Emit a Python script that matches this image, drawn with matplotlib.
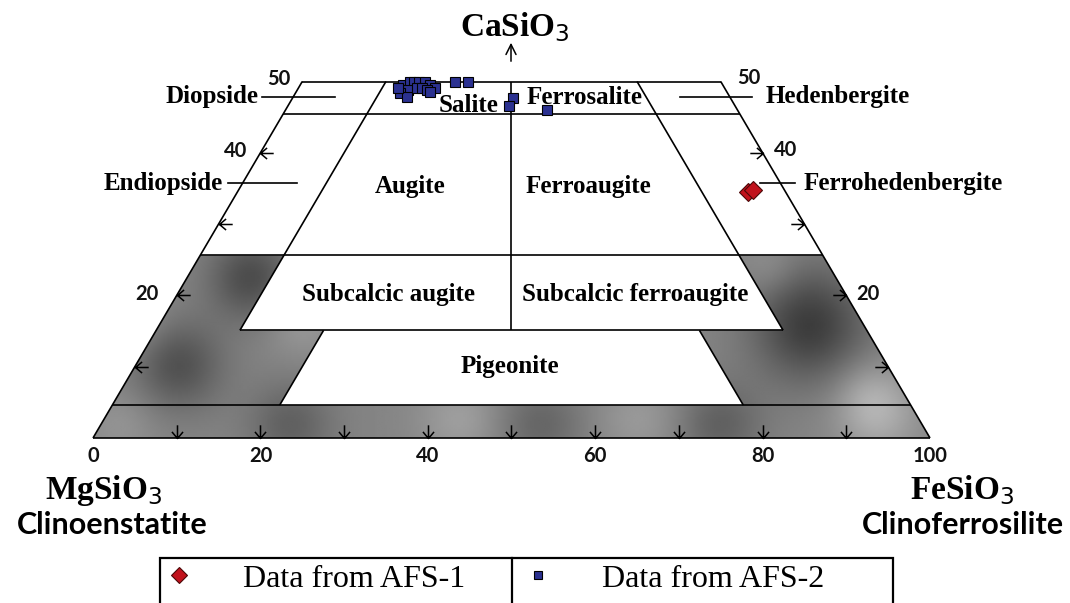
import numpy as np
import matplotlib.pyplot as plt
from matplotlib.path import Path
from matplotlib.patches import PathPatch, Rectangle
from matplotlib.lines import Line2D

plt.rcParams['mathtext.fontset'] = 'dejavusans'

afs1_wo = [34.5, 34.8]
afs1_fs = [61.0, 61.5]

afs2_wo = [49.5, 49.9, 50.0, 50.0, 49.9, 49.5, 49.1, 48.8, 48.4, 47.8,
           49.1, 49.1, 48.8, 48.5, 49.1, 50.0, 50.0, 47.7, 46.6, 46.0]
afs2_fs = [12.3, 12.9, 13.4, 14.0, 14.7, 15.5, 16.3, 13.2, 12.5, 13.6,
           14.2, 14.8, 15.5, 16.0, 11.9, 18.3, 19.8, 26.3, 26.4, 31.2]

base_ticks = [0, 20, 40, 60, 80, 100]
side_ticks = [50, 40, 20]

# Wo levels of the field boundaries as drawn on the diagram
W1, W2, W3, W4, W5 = 4.6, 15.1, 25.6, 45.4, 50.0

SERIF = 'Liberation Serif'
SANS = 'Lato'

# image layout: origin of the En-Fs join and scale (pixels per mol %)
X0, SX = 93, 8.37
Y0, SY = 438, 7.13


def px(x, y):
    return (x - X0) / SX, (Y0 - y) / SY


def tern(wo, fs):
    wo = np.asarray(wo, float)
    fs = np.asarray(fs, float)
    return fs + wo / 2, wo


def seg(w_a, f_a, w_b, f_b, **kw):
    xa, ya = tern(w_a, f_a)
    xb, yb = tern(w_b, f_b)
    ax.plot([xa, xb], [ya, yb], color='black', lw=1.2, zorder=3,
            solid_capstyle='butt', **kw)


fig = plt.figure(figsize=(10.7, 6.03), dpi=100)
ax = fig.add_axes([0, 0, 1, 1])
xmin, ymax = px(0, 0)
xmax, ymin = px(1070, 603)

# grey (non-augite) fields with a blotchy texture
grey = [(0, 0), (0, 100), (W3, 100 - W3), (W3, 90 - W3), (W2, 90 - W2),
        (W2, 80 - W2), (W1, 80 - W1), (W1, 20), (W2, 20), (W2, 10),
        (W3, 10), (W3, 0), (0, 0)]
gx, gy = tern([g[0] for g in grey], [g[1] for g in grey])
clip = PathPatch(Path(np.column_stack([gx, gy]), closed=True),
                 facecolor='none', edgecolor='none')
ax.add_patch(clip)

GX, GY = np.meshgrid(np.linspace(xmin, xmax, 540), np.linspace(ymin, ymax, 300))
tex = np.full(GX.shape, 0.52)
blobs = [(250, 278, 30, -0.22), (178, 365, 32, -0.20), (130, 320, 25, 0.08),
         (300, 320, 25, 0.08), (810, 325, 40, -0.28), (770, 268, 20, 0.06),
         (870, 395, 25, 0.10), (290, 425, 30, -0.14), (460, 420, 30, 0.10),
         (540, 425, 30, -0.12), (640, 420, 30, 0.08), (720, 425, 30, -0.14),
         (880, 420, 30, 0.12), (120, 425, 25, 0.06)]
for bx, by, s, a in blobs:
    cx, cy = px(bx, by)
    tex += a * np.exp(-((GX - cx) ** 2 / (2 * (s / SX) ** 2)
                        + (GY - cy) ** 2 / (2 * (s / SY) ** 2)))
im = ax.imshow(tex, extent=(xmin, xmax, ymin, ymax), origin='lower',
               cmap='gray', vmin=0, vmax=1, aspect='auto',
               interpolation='bilinear', zorder=1)
im.set_clip_path(clip)

# outline of the quadrilateral
seg(0, 0, 0, 100)
seg(0, 0, W5, 0)
seg(0, 100, W5, 100 - W5)
seg(W5, 0, W5, 100 - W5)
for w in (W1, W3, W4):
    seg(w, 0, w, 100 - w)
# augite / subcalcic boundaries
seg(W2, 10, W5, 10)
seg(W2, 90 - W2, W5, 90 - W5)
seg(W2, 10, W2, 90 - W2)
seg(W2, 50 - W2 / 2, W5, 50 - W5 / 2)
# pigeonite
seg(W1, 20, W2, 20)
seg(W1, 80 - W1, W2, 80 - W2)

# arrow-shaped tick marks
arrow = Path([(-1, 0), (0, 0), (-0.5, 0.42), (0, 0), (-0.5, -0.42)],
             [Path.MOVETO, Path.LINETO, Path.MOVETO, Path.LINETO, Path.LINETO])
left_arrow = Path(arrow.vertices * [-1, 1], arrow.codes)
down_arrow = Path(arrow.vertices[:, ::-1] * [1, -1], arrow.codes)
tk = dict(ls='none', ms=19, mfc='none', mec='black', mew=1.1, zorder=4)
side_w = [10, 20, 30, 40]
ax.plot(*tern(side_w, [0] * 4), marker=left_arrow, **tk)
ax.plot(*tern(side_w, [100 - w for w in side_w]), marker=arrow, **tk)
ax.plot(*tern([0] * 9, list(range(10, 100, 10))), marker=down_arrow, **tk)

# tick labels
lab = dict(family=SANS, weight='bold', fontsize=14.5, ha='center', va='center',
           color='#111111')
for t in base_ticks:
    ax.text(t, px(0, 456)[1], str(t), **lab)
for t, (lx, ly), (rx, ry) in zip(side_ticks, [(279, 79), (236, 151), (147, 294)],
                                 [(749, 78), (786, 150), (868, 294)]):
    ax.text(*px(lx, ly), str(t), **lab)
    ax.text(*px(rx, ry), str(t), **lab)

# field names
fld = dict(family=SERIF, weight='bold', fontsize=18, ha='center', va='center', zorder=6)
fields = [('Diopside', 212, 97), ('Hedenbergite', 838, 97),
          ('Endiopside', 163, 183), ('Ferrohedenbergite', 903, 183),
          ('Salite', 469, 106), ('Ferrosalite', 585, 97),
          ('Augite', 410, 187), ('Ferroaugite', 588, 187),
          ('Subcalcic augite', 388, 295), ('Subcalcic ferroaugite', 635, 295),
          ('Pigeonite', 510, 367)]
for name, x, y in fields:
    ax.text(*px(x, y), name, **fld)
for xa, xb, y in [(262, 335, 97), (680, 752, 97), (228, 297, 183), (760, 795, 183)]:
    (x1, y1), (x2, y2) = px(xa, y), px(xb, y)
    ax.plot([x1, x2], [y1, y2], color='black', lw=1.2, zorder=3)

# end-members
end = dict(family=SERIF, weight='bold', fontsize=24, ha='center', va='center')
ax.text(*px(515, 27), r'CaSiO$_\mathrm{3}$', **end)
ax.text(*px(104, 490), r'MgSiO$_\mathrm{3}$', **end)
ax.text(*px(962, 490), r'FeSiO$_\mathrm{3}$', **end)
ax.text(*px(112, 525), 'Clinoenstatite', family=SANS, weight='bold',
        fontsize=22, ha='center', va='center')
ax.text(*px(963, 525), 'Clinoferrosilite', family=SANS, weight='bold',
        fontsize=22, ha='center', va='center')
ax.annotate('', xy=px(511, 40), xytext=px(511, 64),
            arrowprops=dict(arrowstyle='->', lw=1.1, color='black',
                            mutation_scale=18))

# data
h1, = ax.plot(*tern(afs1_wo, afs1_fs), ls='none', marker='D', ms=9,
              mfc='#c1121c', mec='#4a0808', mew=0.8, zorder=7,
              label='Data from AFS-1')
h2, = ax.plot(*tern(afs2_wo, afs2_fs), ls='none', marker='s', ms=6.8,
              mfc='#2b3190', mec='black', mew=0.8, zorder=7,
              label='Data from AFS-2')

ax.set_xlim(xmin, xmax)
ax.set_ylim(ymin, ymax)
ax.axis('off')

# legend box, cut by the lower edge of the figure
W, H = 1070, 603
fig.patches.append(Rectangle((160 / W, -0.05), 733 / W, 0.05 + 1 - 558 / H,
                             transform=fig.transFigure, fill=False,
                             edgecolor='black', lw=1.6, clip_on=False))
fig.lines.append(Line2D([512 / W, 512 / W], [0, 1 - 558 / H],
                        transform=fig.transFigure, color='black', lw=1.6))
fig.legend(handles=[h1, h2], loc='upper left',
           bbox_to_anchor=(163 / W, 1 - 561 / H),
           ncol=2, frameon=False, prop=dict(family=SERIF, size=23),
           handlelength=0.8, handletextpad=1.6, borderpad=0.1,
           borderaxespad=0, columnspacing=1.9, markerscale=0.9)

fig.savefig('out.png', dpi=100)
